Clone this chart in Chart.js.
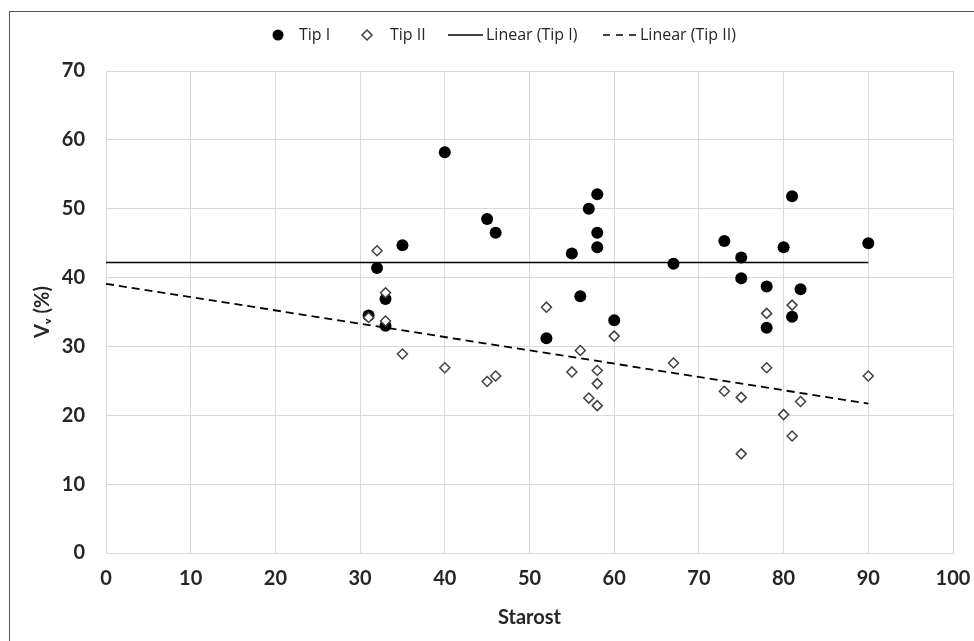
<!DOCTYPE html>
<html>
<head>
<meta charset="utf-8">
<script src="https://cdn.jsdelivr.net/npm/chart.js@4.4.1/dist/chart.umd.min.js"></script>
<style>
  html, body { margin: 0; padding: 0; background: #fff; overflow: hidden; }
  #frame { position: absolute; left: 9px; top: 11px; width: 1000px; height: 700px; border: 1px solid #595959; box-sizing: border-box; }
  #wrap { position: absolute; left: 0; top: 0; width: 974px; height: 641px; }
</style>
</head>
<body>
<div id="frame"></div>
<div id="wrap"><canvas id="c"></canvas></div>
<script>
// Data
const tipIAge = [31, 32, 33, 33, 35, 40, 45, 46, 52, 55, 56, 57, 58, 58, 58, 60, 67, 73, 75, 75, 78, 78, 80, 81, 81, 82, 90];
const tipIVv  = [34.5, 41.4, 36.9, 33.0, 44.7, 58.2, 48.5, 46.5, 31.2, 43.5, 37.3, 50.0, 52.1, 46.5, 44.4, 33.8, 42.0, 45.3, 42.9, 39.9, 38.7, 32.7, 44.4, 51.8, 34.3, 38.3, 45.0];

const tipIIAge = [31, 32, 33, 33, 35, 40, 45, 46, 52, 55, 56, 57, 58, 58, 58, 60, 67, 73, 75, 75, 78, 78, 80, 81, 81, 82, 90];
const tipIIVv  = [34.2, 43.9, 37.8, 33.7, 28.9, 26.9, 24.9, 25.7, 35.7, 26.3, 29.4, 22.5, 26.5, 24.6, 21.4, 31.5, 27.6, 23.5, 22.6, 14.4, 34.8, 26.9, 20.1, 36.0, 17.0, 22.0, 25.7];

const trendAge   = [0, 90];
const trendIVv   = [42.2, 42.2];
const trendIIVv  = [39.1, 21.7];

const xTicks = [0, 10, 20, 30, 40, 50, 60, 70, 80, 90, 100];
const yTicks = [0, 10, 20, 30, 40, 50, 60, 70];

const seriesNames = ['Tip I', 'Tip II', 'Linear (Tip I)', 'Linear (Tip II)'];
const xTitle = 'Starost';
const yTitle = 'V\u1D65 (%)';

const pts = (xs, ys) => xs.map((x, i) => ({ x: x, y: ys[i] }));

const FONT = 'Lato, "Open Sans", "DejaVu Sans", sans-serif';
const LFONT = '"Open Sans", Lato, sans-serif';
const TXT = '#262626';

const legendPlugin = {
  id: 'customLegend',
  afterDraw(chart) {
    const ctx = chart.ctx;
    const y = 35;
    ctx.save();
    ctx.font = '16px ' + LFONT;
    ctx.fillStyle = TXT;
    ctx.textBaseline = 'middle';
    ctx.textAlign = 'left';
    // Tip I marker
    ctx.beginPath();
    ctx.arc(278, y, 5.5, 0, Math.PI * 2);
    ctx.fillStyle = '#000';
    ctx.fill();
    ctx.fillStyle = TXT;
    ctx.fillText(seriesNames[0], 299, y);
    // Tip II marker
    ctx.beginPath();
    ctx.moveTo(367, y - 5); ctx.lineTo(372, y); ctx.lineTo(367, y + 5); ctx.lineTo(362, y); ctx.closePath();
    ctx.fillStyle = '#fff'; ctx.fill();
    ctx.strokeStyle = '#404040'; ctx.lineWidth = 1.5; ctx.stroke();
    ctx.fillStyle = TXT;
    ctx.fillText(seriesNames[1], 390, y);
    // Linear Tip I
    ctx.beginPath();
    ctx.moveTo(448, y); ctx.lineTo(483, y);
    ctx.strokeStyle = '#000'; ctx.lineWidth = 1.5; ctx.setLineDash([]); ctx.stroke();
    ctx.fillText(seriesNames[2], 486, y);
    // Linear Tip II
    ctx.beginPath();
    ctx.moveTo(603, y); ctx.lineTo(638, y);
    ctx.setLineDash([7, 6]); ctx.stroke();
    ctx.setLineDash([]);
    ctx.fillText(seriesNames[3], 640, y);
    ctx.restore();
  }
};

new Chart(document.getElementById('c'), {
  type: 'scatter',
  data: {
    datasets: [
      {
        label: seriesNames[1],
        data: pts(tipIIAge, tipIIVv),
        pointStyle: 'rectRot',
        pointRadius: 5,
        pointHoverRadius: 5,
        backgroundColor: '#ffffff',
        borderColor: '#404040',
        borderWidth: 1.5,
        order: 0
      },
      {
        label: seriesNames[0],
        data: pts(tipIAge, tipIVv),
        pointStyle: 'circle',
        pointRadius: 6,
        pointHoverRadius: 6,
        backgroundColor: '#000000',
        borderColor: '#000000',
        borderWidth: 0,
        order: 1
      },
      {
        label: seriesNames[2],
        type: 'line',
        data: pts(trendAge, trendIVv),
        showLine: true,
        pointRadius: 0,
        borderColor: '#000000',
        borderWidth: 1.5,
        fill: false,
        order: 2
      },
      {
        label: seriesNames[3],
        type: 'line',
        data: pts(trendAge, trendIIVv),
        showLine: true,
        pointRadius: 0,
        borderColor: '#000000',
        borderWidth: 1.8,
        borderDash: [8, 5],
        fill: false,
        order: 3
      }
    ]
  },
  options: {
    responsive: true,
    maintainAspectRatio: false,
    animation: false,
    layout: { padding: { left: 0, top: 71, right: 21, bottom: 0 } },
    plugins: {
      legend: { display: false },
      tooltip: { enabled: false }
    },
    scales: {
      x: {
        type: 'linear',
        min: 0, max: 100,
        afterBuildTicks(scale) { scale.ticks = xTicks.map(v => ({ value: v })); },
        afterFit(scale) { scale.height = 88; scale.paddingRight = 0; },
        grid: { color: '#d9d9d9', lineWidth: 1, drawTicks: false },
        border: { color: '#d9d9d9' },
        ticks: { padding: 14, color: TXT, font: { family: FONT, size: 20, weight: 'bold' } },
        title: { display: true, text: xTitle, color: TXT, padding: { top: 0, bottom: 11 }, font: { family: FONT, size: 20, weight: 'bold' } }
      },
      y: {
        type: 'linear',
        min: 0, max: 70,
        afterBuildTicks(scale) { scale.ticks = yTicks.map(v => ({ value: v })); },
        afterFit(scale) { scale.width = 106; },
        grid: { color: '#d9d9d9', lineWidth: 1, drawTicks: false },
        border: { color: '#d9d9d9' },
        ticks: { padding: 21, color: TXT, font: { family: FONT, size: 20, weight: 'bold' } },
        title: { display: true, text: yTitle, color: TXT, padding: { top: 31, bottom: 0 }, font: { family: FONT, size: 20, weight: 'bold' } }
      }
    }
  },
  plugins: [legendPlugin]
});
</script>
</body>
</html>
